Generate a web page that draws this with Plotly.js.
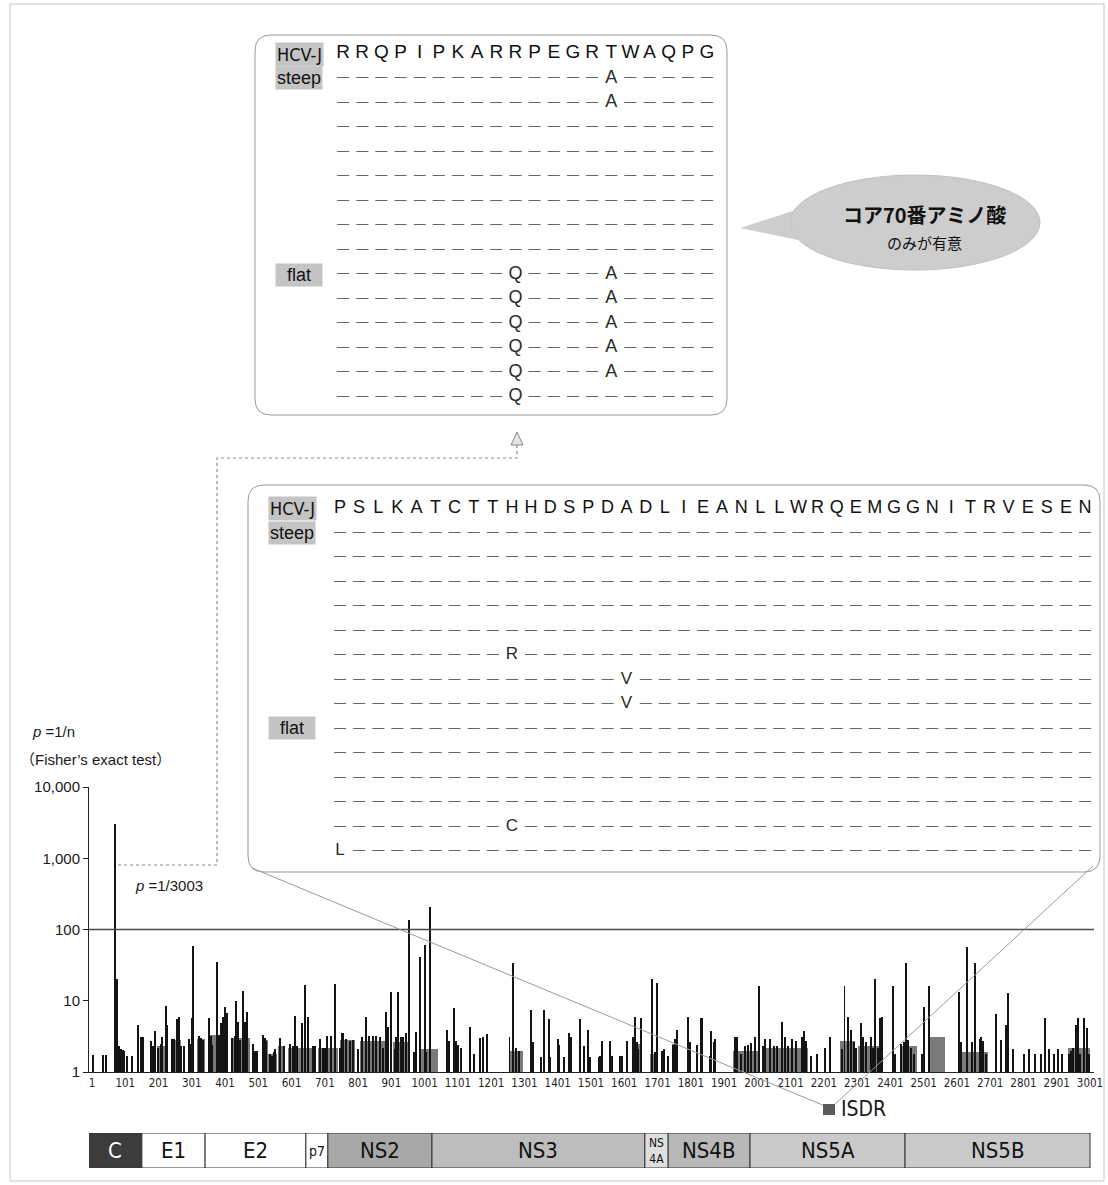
<!DOCTYPE html>
<html>
<head>
<meta charset="utf-8">
<script src="https://cdn.plot.ly/plotly-3.0.1.min.js"></script>
<style>html,body{margin:0;padding:0;background:#fff}#chart{width:1108px;height:1185px}</style>
</head>
<body>
<div id="chart"></div>
<script>
// ---------------- DATA ----------------
// p = 1/n per amino-acid position (black bars)
const barPos = [3,35,42,70,76,83,88,93,98,107,120,138,148,155,177,183,190,200,208,212,222,227,242,248,256,263,270,278,292,298,302,305,322,328,335,352,358,363,378,383,390,395,402,408,422,430,435,440,447,455,460,468,485,490,497,515,520,525,535,542,547,552,567,578,595,605,612,618,632,640,650,665,670,685,695,702,708,720,730,745,752,
 756,766,776,786,801,814,824,834,846,856,868,876,884,891,899,911,916,921,929,936,946,954,968,976,988,1001,1006,1016,1068,1073,1088,1096,1101,1109,1138,1149,1168,1176,1189,1256,1268,1276,1286,1321,1326,1351,1359,1374,1379,1401,1406,1421,1436,1441,1468,1481,1491,1498,1524,
 1528,1533,1558,1563,1588,1593,1608,1628,1633,1638,1643,1650,1685,1693,1700,1713,1720,1733,1746,1753,1758,1793,1800,1820,1831,1835,1858,1863,1870,1875,1933,1941,1951,1963,1973,1983,1995,2005,2018,2025,2038,2050,2061,2075,2085,2093,2105,2118,2135,2141,2148,2163,2180,2203,2220,2255,2263,2273,2283,2291,
 2299,2312,2319,2329,2342,2349,2356,2364,2371,2376,2409,2414,2434,2442,2449,2454,2464,2472,2496,2502,2517,2606,2614,2632,2647,2654,2669,2674,2679,2689,2717,2732,2749,2754,2769,2804,2819,2836,2854,2867,2879,2892,2906,2916,2939,2944,2949,2959,2964,2972,2984,2991,2999];
const barVal = [1.75,1.75,1.75,3003,20,2.3,2.1,2.05,2.0,1.7,1.7,4.6,3.1,3.1,2.75,2.3,3.8,2.2,2.5,3.1,8.4,4.6,2.9,2.9,5.6,6.0,2.3,2.3,2.9,2.5,5.7,59,3.2,3.0,2.8,5.7,3.2,2.4,35,3.3,4.9,6.0,8.3,6.7,3.0,3.2,9.8,5.1,2.8,13.7,5.1,6.9,2.5,2.0,2.0,3.3,3.0,2.7,1.8,1.7,1.9,2.1,3.0,2.3,2.5,2.3,6.2,2.3,4.8,16.7,5.9,2.3,2.3,2.9,2.2,2.2,3.2,3.2,17.3,2.2,3.5,
 3.5,2.9,2.7,2.8,2.1,3.1,6.0,3.2,3.2,3.2,3.1,2.2,6.9,4.3,13.3,2.1,3.1,13.3,3.1,3.1,3.5,135,1.9,3.6,41,60,1.9,209,3.9,2.7,7.8,2.7,2.4,2.2,4.3,1.8,3.0,3.1,3.4,3.1,34,2.2,2.0,7.4,2.6,1.6,7.4,5.6,1.6,2.9,2.4,1.6,3.5,3.1,5.6,2.3,3.9,1.6,1.6,
 1.7,2.7,2.7,1.7,1.7,1.7,2.75,3.1,6.0,2.6,2.1,5.65,19.9,1.9,17.5,2.0,2.1,1.7,2.4,2.9,3.9,6.0,2.65,2.4,5.65,5.65,1.7,3.8,2.65,2.9,3.1,3.1,1.8,2.3,2.4,2.55,3.1,16.1,2.3,2.9,2.9,2.3,2.3,5.1,3.1,2.3,2.9,2.75,3.1,3.8,2.75,1.7,1.8,2.2,3.1,2.1,16.1,6.0,3.9,2.65,
 2.2,4.9,3.1,2.65,3.1,2.2,19.9,2.2,5.65,6.0,16.1,1.8,2.5,2.65,34,2.8,2.2,1.8,1.8,8.2,16.1,13.4,2.65,57,2.65,34,2.9,3.1,2.7,1.8,6.6,2.8,4.6,12.9,2.1,1.8,2.1,1.8,1.8,5.8,2.1,1.8,2.1,1.8,1.8,2.0,2.2,4.6,5.8,1.8,5.8,4.2,1.8];

// dense low-value stretches (grey halftone areas): start, end, typical height
const clusterStart = [195,238,318,350,421,511,529,560,590,680,746,806,906,987,1254,1623,1678,1744,1929,2014,2250,2304,2430,2520,2604,2935];
const clusterEnd   = [220,270,341,410,476,529,556,581,661,741,791,887,951,1041,1296,1653,1702,1764,2004,2154,2295,2379,2480,2565,2695,3001];
const clusterHeight= [2.3,2.8,2.9,3.3,3.0,2.8,1.8,2.3,2.2,2.2,2.8,2.7,2.6,2.1,2.0,2.5,1.8,2.5,2.0,2.2,2.7,2.3,2.3,3.1,1.9,2.2];

const xTickVals = [1,101,201,301,401,501,601,701,801,901,1001,1101,1201,1301,1401,1501,1601,1701,1801,1901,2001,2101,2201,2301,2401,2501,2601,2701,2801,2901,3001];
const yTickVals = [1,10,100,1000,10000];
const yTickText = ['1','10','100','1,000','10,000'];

// genome map
const geneNames  = ['C','E1','E2','p7','NS2','NS3','NS<br>4A','NS4B','NS5A','NS5B'];
const geneStart  = [-8,151,341,644,710,1023,1663,1733,1979,2445];
const geneEnd    = [151,341,644,710,1023,1663,1733,1979,2445,3001];
const geneColors = ['#3c3c3c','#ffffff','#ffffff','#ffffff','#a8a8a8','#bdbdbd','#dedede','#b8b8b8','#c9c9c9','#c9c9c9'];
const geneTextColors = ['#ffffff','#111','#111','#111','#111','#111','#111','#111','#111','#111'];
const geneTextSize = [22,22,22,14,22,22,12,22,22,22];

// alignments: [row, position(1-based), residue]
const topSeq = 'RRQPIPKARRPEGRTWAQPG'.split('');
const topRows = 14;
const topMuts = [[1,15,'A'],[2,15,'A'],[9,10,'Q'],[9,15,'A'],[10,10,'Q'],[10,15,'A'],[11,10,'Q'],[11,15,'A'],[12,10,'Q'],[12,15,'A'],[13,10,'Q'],[13,15,'A'],[14,10,'Q']];
const botSeq = 'PSLKATCTTHHDSPDADLIEANLLWRQEMGGNITRVESEN'.split('');
const botRows = 14;
const botMuts = [[6,10,'R'],[7,16,'V'],[8,16,'V'],[13,10,'C'],[14,1,'L']];

// ---------------- HELPERS ----------------
const W = 1108, H = 1185;
const PX = x => x / W;
const PY = y => 1 - y / H;
const SANS = 'Liberation Sans, Arial, Helvetica, sans-serif';
const NARROW = 'Liberation Sans Narrow, Arial Narrow, DejaVu Sans Condensed, Liberation Sans, sans-serif';
const CJK = 'Noto Sans CJK JP, Noto Sans, sans-serif';

function alignmentTrace(seq, nRows, muts, xa, ya, headSize, mutSize) {
  const xs = [], ys = [], ts = [], sizes = [], colors = [];
  seq.forEach((c, i) => { xs.push(i); ys.push(0); ts.push(c); sizes.push(headSize); colors.push('#111'); });
  for (let r = 1; r <= nRows; r++) {
    for (let i = 0; i < seq.length; i++) {
      const m = muts.find(d => d[0] === r && d[1] === i + 1);
      xs.push(i); ys.push(r);
      if (m) { ts.push(m[2]); sizes.push(mutSize); colors.push('#2a2a2a'); }
      else { ts.push('\u2014'); sizes.push(12); colors.push('#666'); }
    }
  }
  return { type: 'scatter', mode: 'text', x: xs, y: ys, text: ts, xaxis: xa, yaxis: ya,
    textposition: 'middle center', cliponaxis: false, hoverinfo: 'skip',
    textfont: { family: SANS, size: sizes, color: colors } };
}

function rrect(x0, y0, x1, y1, r) {
  const p = (x, y) => PX(x) + ',' + PY(y);
  return 'M' + p(x0 + r, y0) + ' L' + p(x1 - r, y0) + ' Q' + p(x1, y0) + ' ' + p(x1, y0 + r) +
    ' L' + p(x1, y1 - r) + ' Q' + p(x1, y1) + ' ' + p(x1 - r, y1) +
    ' L' + p(x0 + r, y1) + ' Q' + p(x0, y1) + ' ' + p(x0, y1 - r) +
    ' L' + p(x0, y0 + r) + ' Q' + p(x0, y0) + ' ' + p(x0 + r, y0) + ' Z';
}
function poly(pts, close) {
  return pts.map((q, i) => (i ? 'L' : 'M') + PX(q[0]) + ',' + PY(q[1])).join(' ') + (close ? ' Z' : '');
}

// ---------------- TRACES ----------------
const traces = [
  { type: 'bar', x: clusterStart.map((s, i) => (s + clusterEnd[i]) / 2), y: clusterHeight,
    width: clusterStart.map((s, i) => clusterEnd[i] - s), marker: { color: '#7a7a7a', line: { width: 0 } },
    xaxis: 'x', yaxis: 'y', hoverinfo: 'skip' },
  { type: 'bar', x: barPos, y: barVal, width: 6, marker: { color: '#141414', line: { width: 0 } },
    xaxis: 'x', yaxis: 'y', hoverinfo: 'skip' },
  alignmentTrace(topSeq, topRows, topMuts, 'x2', 'y2', 19, 18),
  alignmentTrace(botSeq, botRows, botMuts, 'x3', 'y3', 18, 17),
  { type: 'bar', orientation: 'h', y: geneNames.map(() => 0), base: geneStart,
    x: geneStart.map((s, i) => geneEnd[i] - s), width: 1,
    marker: { color: geneColors, line: { color: '#333', width: 1 } },
    xaxis: 'x4', yaxis: 'y4', hoverinfo: 'skip' }
];

// ---------------- LAYOUT ----------------
const shapes = [
  { type: 'rect', xref: 'paper', yref: 'paper', x0: PX(10), x1: PX(1104), y0: PY(1181), y1: PY(4), line: { color: '#c4c4c4', width: 1 } },
  { type: 'line', xref: 'x domain', yref: 'y', x0: 0, x1: 1, y0: 100, y1: 100, line: { color: '#4a4a4a', width: 1.3 } },
  { type: 'path', xref: 'paper', yref: 'paper', path: rrect(255, 35, 727, 415, 16), line: { color: '#9a9a9a', width: 1 } },
  { type: 'path', xref: 'paper', yref: 'paper', path: rrect(248, 485, 1100, 872, 16), line: { color: '#9a9a9a', width: 1 } },
  { type: 'path', xref: 'paper', yref: 'paper', path: poly([[118, 865], [217, 865], [217, 458], [517, 458], [517, 443]]), line: { color: '#8a8a8a', width: 1.2, dash: 'dot' } },
  { type: 'path', xref: 'paper', yref: 'paper', path: poly([[511, 445], [517, 432], [523, 445]], true), line: { color: '#8a8a8a', width: 1 }, fillcolor: '#e6e6e6' },
  { type: 'line', xref: 'paper', yref: 'paper', x0: PX(252), y0: PY(868), x1: PX(825), y1: PY(1106), line: { color: '#9a9a9a', width: 1 } },
  { type: 'line', xref: 'paper', yref: 'paper', x0: PX(1093), y0: PY(866), x1: PX(833), y1: PY(1106), line: { color: '#9a9a9a', width: 1 } },
  { type: 'rect', xref: 'paper', yref: 'paper', x0: PX(823), x1: PX(835), y0: PY(1115), y1: PY(1104), fillcolor: '#5a5a5a', line: { width: 0 } },
  { type: 'path', xref: 'paper', yref: 'paper', path: poly([[740, 228], [805, 207], [808, 242]], true), fillcolor: '#cdcdcd', line: { width: 0 } },
  { type: 'circle', xref: 'paper', yref: 'paper', x0: PX(790), x1: PX(1040), y0: PY(270), y1: PY(175), fillcolor: '#cdcdcd', line: { color: '#c0c0c0', width: 1 } }
];

const labelBg = '#c4c4c4';
function lbl(x, y, text, family) {
  return { xref: 'paper', yref: 'paper', x: PX(x), y: PY(y), xanchor: 'center', yanchor: 'middle', showarrow: false,
    text: text, bgcolor: labelBg, borderpad: 1, font: { family: family, size: 18, color: '#111' } };
}
const annotations = [
  { xref: 'paper', yref: 'paper', x: PX(30), y: PY(731), xanchor: 'left', yanchor: 'middle', showarrow: false,
    text: '<i>p</i> =1/n', font: { family: SANS, size: 15, color: '#1a1a1a' } },
  { xref: 'paper', yref: 'paper', x: PX(18), y: PY(759), xanchor: 'left', yanchor: 'middle', showarrow: false,
    text: '\uFF08Fisher\u2019s exact test\uFF09', font: { family: SANS + ', ' + CJK, size: 15, color: '#1a1a1a' } },
  { xref: 'paper', yref: 'paper', x: PX(133), y: PY(885), xanchor: 'left', yanchor: 'middle', showarrow: false,
    text: '<i>p</i> =1/3003', font: { family: SANS, size: 15, color: '#1a1a1a' } },
  { xref: 'paper', yref: 'paper', x: PX(839), y: PY(1109), xanchor: 'left', yanchor: 'middle', showarrow: false,
    text: 'ISDR', font: { family: NARROW, size: 21, color: '#1a1a1a' } },
  { xref: 'paper', yref: 'paper', x: PX(924), y: PY(214), xanchor: 'center', yanchor: 'middle', showarrow: false,
    text: '<b>コア70番アミノ酸</b>', font: { family: CJK, size: 20, color: '#111' } },
  { xref: 'paper', yref: 'paper', x: PX(924), y: PY(243), xanchor: 'center', yanchor: 'middle', showarrow: false,
    text: 'のみが有意', font: { family: CJK, size: 15, color: '#111' } },
  lbl(299, 54, 'HCV-J', NARROW),
  lbl(299, 78, 'steep', SANS),
  lbl(299, 275, '\u00a0\u00a0flat\u00a0\u00a0', SANS),
  lbl(292, 508, 'HCV-J', NARROW),
  lbl(292, 533, 'steep', SANS),
  lbl(292, 728, '\u00a0\u00a0flat\u00a0\u00a0', SANS)
];
geneNames.forEach((g, i) => {
  annotations.push({ xref: 'x4', yref: 'y4', x: (geneStart[i] + geneEnd[i]) / 2, y: 0, xanchor: 'center', yanchor: 'middle', showarrow: false,
    text: g, font: { family: NARROW, size: geneTextSize[i], color: geneTextColors[i] } });
});

const mainXDomain = [PX(89), PX(1094)];
const mainXRange = [-8, 3013];

const layout = {
  width: W, height: H, margin: { l: 0, r: 0, t: 0, b: 0 }, autosize: false,
  paper_bgcolor: '#ffffff', plot_bgcolor: 'rgba(0,0,0,0)', showlegend: false,
  barmode: 'overlay', bargap: 0, hovermode: false,
  font: { family: SANS, color: '#1a1a1a' },
  xaxis: { domain: mainXDomain, range: mainXRange, anchor: 'y', tickmode: 'array', tickvals: xTickVals,
    ticktext: xTickVals.map(String), ticks: '', showline: true, linecolor: '#222', linewidth: 1,
    showgrid: false, zeroline: false, tickfont: { family: NARROW, size: 11.5, color: '#222' } },
  yaxis: { domain: [PY(1072), PY(787)], type: 'log', range: [0, 4], anchor: 'x', tickmode: 'array',
    tickvals: yTickVals, ticktext: yTickText, ticks: 'outside', ticklen: 5, tickcolor: '#222',
    showline: true, linecolor: '#222', linewidth: 1, showgrid: false, zeroline: false,
    tickfont: { family: SANS, size: 15, color: '#1a1a1a' } },
  xaxis2: { domain: [PX(343), PX(707)], range: [0, topSeq.length - 1], anchor: 'y2', visible: false, fixedrange: true },
  yaxis2: { domain: [PY(396.5), PY(53.5)], range: [topRows, 0], anchor: 'x2', visible: false, fixedrange: true },
  xaxis3: { domain: [PX(340), PX(1085)], range: [0, botSeq.length - 1], anchor: 'y3', visible: false, fixedrange: true },
  yaxis3: { domain: [PY(851), PY(508)], range: [botRows, 0], anchor: 'x3', visible: false, fixedrange: true },
  xaxis4: { domain: mainXDomain, range: mainXRange, anchor: 'y4', visible: false, fixedrange: true },
  yaxis4: { domain: [PY(1168), PY(1133)], range: [-0.5, 0.5], anchor: 'x4', visible: false, fixedrange: true },
  shapes: shapes,
  annotations: annotations
};

Plotly.newPlot('chart', traces, layout, { staticPlot: true, displayModeBar: false });
</script>
</body>
</html>
